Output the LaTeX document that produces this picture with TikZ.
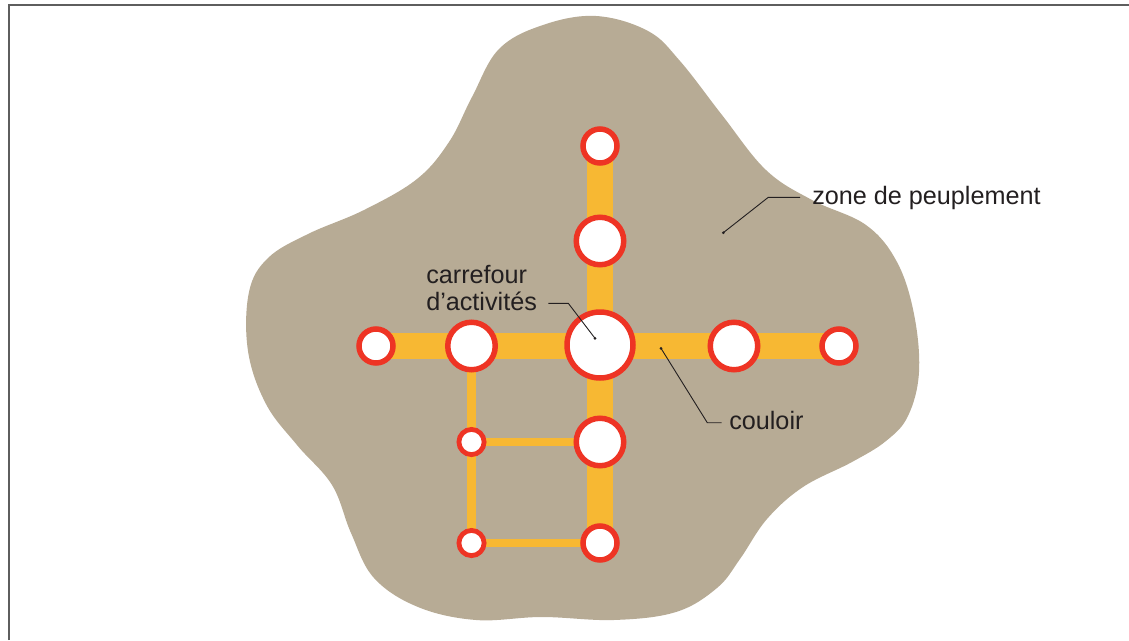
\documentclass[tikz,border=0pt]{standalone}
\usepackage{fontspec}
\setmainfont{Liberation Sans}
\usetikzlibrary{backgrounds}
\definecolor{zone}{HTML}{B7AB95}
\definecolor{corridor}{HTML}{F7B833}
\definecolor{ringred}{HTML}{EE3424}
\definecolor{ink}{HTML}{231F20}
\definecolor{framegray}{HTML}{5E5E5E}
\pgfdeclarelayer{back}
\pgfdeclarelayer{mid}
\pgfsetlayers{back,mid,main}
\begin{document}
\begin{tikzpicture}[x=0.75pt,y=-0.75pt,
  stop/.style={circle, draw=ringred, fill=white, line width=5.5*0.75pt,
    inner sep=0pt, minimum size=#1*0.75pt},
  hub/.style={stop=66},
  bigstop/.style={stop=47.5},
  midstop/.style={stop=34},
  smallstop/.style={circle, draw=ringred, fill=white, line width=4.8*0.75pt,
    inner sep=0pt, minimum size=25.2*0.75pt},
  maincorr/.style={draw=corridor, line width=26*0.75pt},
  sidecorr/.style={draw=corridor, line width=8.3*0.75pt},
  leader/.style={draw=ink, line width=0.9*0.75pt},
  tip/.style={fill=ink, circle, inner sep=0pt, minimum size=3*0.75pt},
  lbl/.style={text=ink, inner sep=0pt, anchor=base west,
    font=\fontsize{18.9}{20}\selectfont}]
\useasboundingbox (0,0) rectangle (1129,640);

% settlement zone and page frame
\begin{pgfonlayer}{back}
  \draw[framegray, line width=1.6*0.75pt] (9,640) -- (9,4.8) -- (1129,4.8);
  \fill[zone] plot[smooth cycle, tension=0.62] coordinates {
    (596,16) (648,31) (680,61) (722,115) (766,170) (812,200) (866,225)
    (897,262) (914,314) (919,372) (908,416) (886,441) (852,462) (803,487)
    (767,519) (740,559) (717,588) (676,612) (614,620) (542,617) (476,620)
    (418,607) (374,578) (351,533) (332,485) (297,445) (266,404) (248,351)
    (249,292) (268,258) (308,234) (364,210) (417,179) (449,142) (472,97)
    (499,49) (543,25)};
\end{pgfonlayer}

% activity hubs
\node[hub]      (C)  at (600,345) {};
\node[midstop]  (N1) at (600,146) {};
\node[bigstop]  (N2) at (600,241) {};
\node[bigstop]  (S3) at (600,442) {};
\node[midstop]  (S4) at (600,543) {};
\node[midstop]  (W2) at (376,346) {};
\node[bigstop]  (W1) at (471.5,346) {};
\node[bigstop]  (E1) at (734,346) {};
\node[midstop]  (E2) at (839,346) {};
\node[smallstop] (L1) at (471.5,442) {};
\node[smallstop] (L2) at (471.5,543) {};

% corridors
\begin{pgfonlayer}{mid}
  \draw[maincorr] (W2.center) -- (E2.center);
  \draw[maincorr] (N1.center) -- (S4.center);
  \draw[sidecorr] (W1.center) -- (L1.center) -- (L2.center);
  \draw[sidecorr] (L1.center) -- (S3.center);
  \draw[sidecorr] (L2.center) -- (S4.center);
\end{pgfonlayer}

% labels
\node[lbl] (zoneL) at (812,204.3) {zone de peuplement};
\node[lbl] (carL1) at (426,283.3) {carrefour};
\node[lbl] (carL2) at (426,310) {d’activités};
\node[lbl] (couL)  at (729,429.3) {couloir};

% leader lines
\coordinate (zoneA) at (800,197.3);
\coordinate (zoneB) at (768.3,197.3);
\node[tip] (zoneT) at (723.3,232.7) {};
\draw[leader] (zoneA) -- (zoneB) -- (zoneT.center);

\coordinate (carA) at (548.3,303.3);
\coordinate (carB) at (568.3,303.3);
\node[tip] (carT) at (595,338.3) {};
\draw[leader] (carA) -- (carB) -- (carT.center);

\coordinate (couA) at (721.7,422.7);
\coordinate (couB) at (707.3,422.7);
\node[tip] (couT) at (661,348.3) {};
\draw[leader] (couA) -- (couB) -- (couT.center);
\end{tikzpicture}
\end{document}
